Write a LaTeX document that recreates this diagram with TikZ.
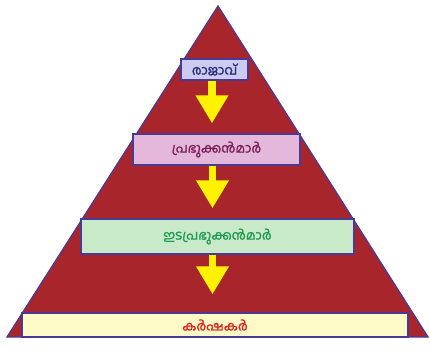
\documentclass[tikz,border=0pt]{standalone}
\usepackage{fontspec}
\newfontfamily\mlfont[Script=Malayalam,AutoFakeBold=1.6]{Hind Kochi}
\usetikzlibrary{arrows.meta,calc,positioning}
\definecolor{pyrred}{HTML}{A8262B}
\definecolor{edgeblue}{HTML}{4A3A96}
\definecolor{kingfill}{HTML}{CCCCF2}
\definecolor{kingtext}{HTML}{2B2B7A}
\definecolor{lordfill}{HTML}{E4B8DA}
\definecolor{lordtext}{HTML}{7A1E5A}
\definecolor{sublordfill}{HTML}{C9EAC9}
\definecolor{sublordtext}{HTML}{1F9A4F}
\definecolor{farmfill}{HTML}{FEFAC8}
\definecolor{farmtext}{HTML}{E0241F}
\definecolor{arrowyellow}{HTML}{FFF200}
\tikzset{
  tier/.style={draw=edgeblue, line width=1.3pt, inner sep=0pt,
    font=\mlfont\bfseries\fontsize{13}{15}\selectfont},
  bigarrow/.style={arrowyellow, line width=7.5pt,
    -{Triangle[width=31pt,length=28pt]}}
}

\begin{document}
\begin{tikzpicture}[x=1pt,y=-1pt]
  % Fixed bounding box
  \path[use as bounding box] (0,0) rectangle (430,349);

  % Pyramid
  \coordinate (apex) at (218,6);
  \coordinate (bl) at (7,337);
  \coordinate (br) at (428,337);
  \draw[edgeblue, line width=1.3pt, fill=pyrred, line join=miter] (bl) -- (apex) -- (br) -- cycle;

  % Tiers
  \node[tier, fill=kingfill, text=kingtext, minimum width=67pt, minimum height=21pt]
    (raja) at (214.5,69.5) {രാജാവ്};
  \node[tier, fill=lordfill, text=lordtext, minimum width=167pt, minimum height=31pt]
    (prabhu) at (216.5,149.5) {പ്രഭുക്കൻമാർ};
  \node[tier, fill=sublordfill, text=sublordtext, minimum width=273pt, minimum height=35pt]
    (idaprabhu) at (217.5,236.5) {ഇടപ്രഭുക്കൻമാർ};
  \node[tier, fill=farmfill, text=farmtext, minimum width=386pt, minimum height=24pt]
    (karshakar) at (215,325) {കർഷകർ};

  % Arrows between tiers
  \draw[bigarrow] ([xshift=-2.5pt]raja.south) -- ([xshift=-4.5pt,yshift=10pt]prabhu.north);
  \draw[bigarrow] ([xshift=-4pt]prabhu.south) -- ([xshift=-5pt,yshift=10pt]idaprabhu.north);
  \draw[bigarrow] ([xshift=-5pt]idaprabhu.south) -- ([xshift=-2.5pt,yshift=18pt]karshakar.north);
\end{tikzpicture}
\end{document}
